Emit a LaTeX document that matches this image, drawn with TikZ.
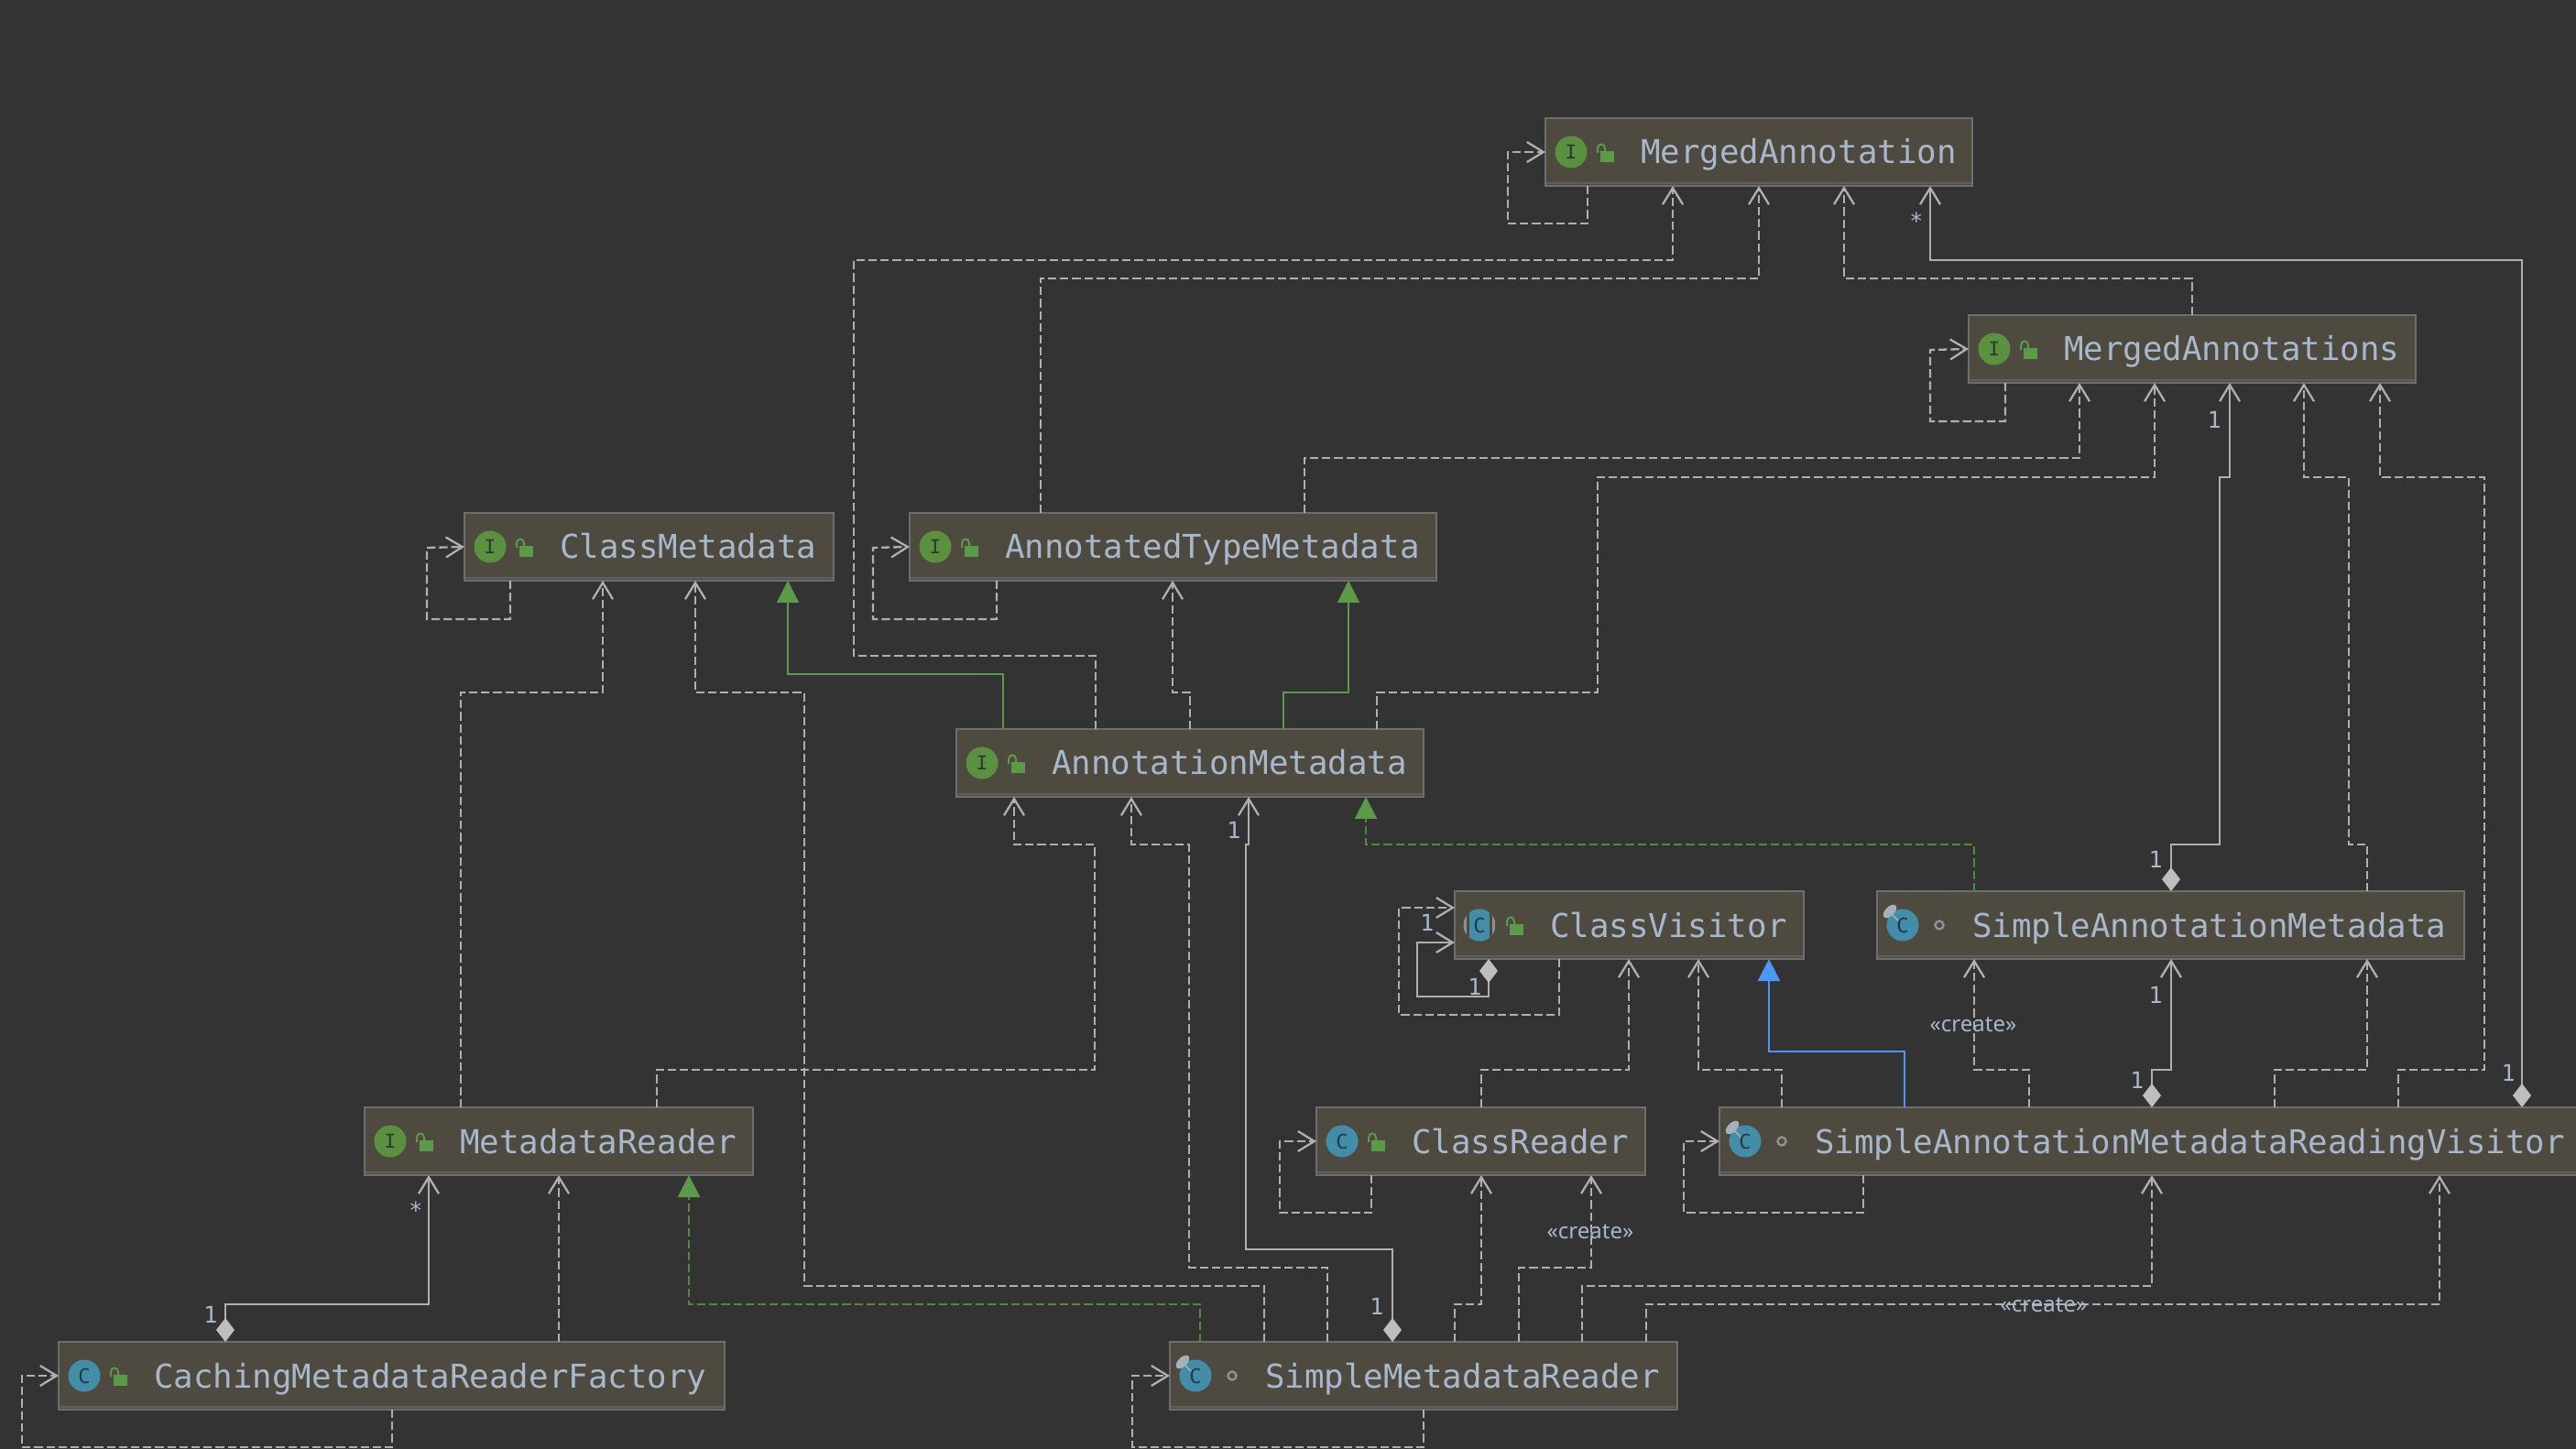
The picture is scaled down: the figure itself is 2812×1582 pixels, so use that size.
\documentclass[tikz,border=0pt]{standalone}
\usepackage{fontspec}
\usetikzlibrary{arrows.meta}
\newfontfamily\jbmono{DejaVu Sans Mono}
\newfontfamily\uisans{Noto Sans}
\definecolor{bgc}{HTML}{333333}
\definecolor{boxc}{HTML}{4E4A3F}
\definecolor{edgec}{HTML}{6E6E6E}
\definecolor{edged}{HTML}{5E5E5E}
\definecolor{linec}{HTML}{AFAFAF}
\definecolor{diac}{HTML}{BEBEBE}
\definecolor{txtc}{HTML}{A7B7CC}
\definecolor{greenc}{HTML}{5B9A48}
\definecolor{greend}{HTML}{4F8A3E}
\definecolor{bluec}{HTML}{4C97F5}
\definecolor{igreen}{HTML}{5A9040}
\definecolor{iteal}{HTML}{438DA8}
\definecolor{idark}{HTML}{2B3A2C}
\definecolor{tdark}{HTML}{1F3A48}
\definecolor{grayi}{HTML}{8B9398}
\definecolor{pinc}{HTML}{A6B0B8}
\tikzset{
  umlnode/.style={draw=edgec,fill=boxc,line width=1pt,inner sep=0pt,outer sep=0pt,anchor=north west,minimum height=37pt},
  umltext/.style={anchor=base west,inner sep=0pt,outer sep=0pt,text=txtc,font=\jbmono\fontsize{17.9}{20}\selectfont},
  mult/.style={inner sep=0pt,text=txtc,font=\jbmono\fontsize{12.5}{14}\selectfont},
  createlbl/.style={inner sep=0pt,text=txtc,font=\uisans\fontsize{12}{14}\selectfont},
  depline/.style={line width=1.15pt,color=linec,dash pattern=on 4.6pt off 2pt,-{Straight Barb[length=9pt,width=11pt]}},
  compline/.style={line width=1.15pt,color=linec,{Diamond[length=13pt,width=10pt,color=diac]}-{Straight Barb[length=9pt,width=11pt]}},
  inhgreen/.style={line width=1.15pt,color=greenc,-{Triangle[length=12pt,width=12pt]}},
  implgreen/.style={line width=1.15pt,color=greend,dash pattern=on 4.6pt off 2pt,-{Triangle[length=12pt,width=12pt,color=greenc]}},
  inhblue/.style={line width=1.15pt,color=bluec,-{Triangle[length=12pt,width=12pt]}},
}
\newcommand{\umlbox}[5]{%
  \node[umlnode,minimum width={(#4-#2)*0.5pt}] (#1) at (#2,#3) {};
  \draw[edged,line width=1pt] ({#2+1},{#3+71}) -- ({#4-1},{#3+71});
  \node[umltext] (#1-t) at ({#2+104},{#3+50}) {#5};
}
\newcommand{\lockicon}[2]{%
  \fill[greenc] ({#1+60},{#2+36}) rectangle ({#1+75},{#2+48});
  \draw[greenc,line width=1pt] ({#1+57},{#2+38}) -- ({#1+57},{#2+33}) .. controls ({#1+57},{#2+27}) and ({#1+65},{#2+27}) .. ({#1+65},{#2+33}) -- ({#1+65},{#2+36});
}
\newcommand{\ifaceicon}[2]{%
  \fill[igreen] ({#1+28},{#2+37}) circle [radius=17.5];
  \node[inner sep=0pt,text=idark,font=\jbmono\fontsize{10.5}{12}\selectfont] at ({#1+28},{#2+37}) {I};
}
\newcommand{\classicon}[2]{%
  \fill[iteal] ({#1+28},{#2+37}) circle [radius=17.5];
  \node[inner sep=0pt,text=tdark,font=\jbmono\fontsize{11}{12}\selectfont] at ({#1+28},{#2+37}) {C};
}
\newcommand{\absicon}[2]{%
  \begin{scope}
    \clip ({#1+27},{#2+37}) circle [radius=17.5];
    \fill[grayi] ({#1+9},{#2+19}) rectangle ({#1+45},{#2+55});
    \fill[boxc] ({#1+13},{#2+19}) rectangle ({#1+41},{#2+55});
    \fill[iteal] ({#1+16},{#2+19}) rectangle ({#1+38},{#2+55});
  \end{scope}
  \node[inner sep=0pt,text=tdark,font=\jbmono\fontsize{11}{12}\selectfont] at ({#1+27},{#2+37}) {C};
}
\newcommand{\pinicon}[2]{%
  \fill[pinc,shift={({#1+14},{#2+22})},rotate=45] (0,0) ellipse [x radius=9,y radius=5];
  \draw[pinc,line width=.8pt] ({#1+17},{#2+26}) -- ({#1+23},{#2+32});
}
\newcommand{\ringicon}[2]{%
  \draw[grayi,line width=1.2pt] ({#1+68},{#2+37}) circle [radius=4.5];
}
\begin{document}
\begin{tikzpicture}[x=0.5pt,y=-0.5pt]
\useasboundingbox (0,0) rectangle (2812,1582);
\clip (0,0) rectangle (2812,1582);
\fill[bgc] (0,0) rectangle (2812,1582);

% boxes
\umlbox{ma}{1687}{129}{2153}{MergedAnnotation}\ifaceicon{1687}{129}\lockicon{1687}{129}
\umlbox{mas}{2149}{344}{2637}{MergedAnnotations}\ifaceicon{2149}{344}\lockicon{2149}{344}
\umlbox{cm}{507}{560}{910}{ClassMetadata}\ifaceicon{507}{560}\lockicon{507}{560}
\umlbox{atm}{993}{560}{1568}{AnnotatedTypeMetadata}\ifaceicon{993}{560}\lockicon{993}{560}
\umlbox{am}{1044}{796}{1554}{AnnotationMetadata}\ifaceicon{1044}{796}\lockicon{1044}{796}
\umlbox{cv}{1588}{973}{1969}{ClassVisitor}\absicon{1588}{973}\lockicon{1588}{973}
\umlbox{sam}{2049}{973}{2690}{SimpleAnnotationMetadata}\classicon{2049}{973}\pinicon{2049}{973}\ringicon{2049}{973}
\umlbox{mr}{398}{1209}{822}{MetadataReader}\ifaceicon{398}{1209}\lockicon{398}{1209}
\umlbox{cr}{1437}{1209}{1796}{ClassReader}\classicon{1437}{1209}\lockicon{1437}{1209}
\umlbox{samrv}{1877}{1209}{2840}{SimpleAnnotationMetadataReadingVisitor}\classicon{1877}{1209}\pinicon{1877}{1209}\ringicon{1877}{1209}
\umlbox{cf}{64}{1465}{791}{CachingMetadataReaderFactory}\classicon{64}{1465}\lockicon{64}{1465}
\umlbox{smr}{1277}{1465}{1831}{SimpleMetadataReader}\classicon{1277}{1465}\pinicon{1277}{1465}\ringicon{1277}{1465}

% self dependencies
\draw[depline] (1733,0 |- ma.south) -- (1733,244) -- (1646,244) -- (1646,166) -- (ma.west);
\draw[depline] (2189,0 |- mas.south) -- (2189,460) -- (2107,460) -- (2107,382) -- (mas.west);
\draw[depline] (557,0 |- cm.south) -- (557,676) -- (466,676) -- (466,598) -- (cm.west);
\draw[depline] (1088,0 |- atm.south) -- (1088,676) -- (953,676) -- (953,598) -- (atm.west);
\draw[depline] (1702,0 |- cv.south) -- (1702,1108) -- (1527,1108) -- (1527,991) -- (cv.west |- 0,991);
\draw[depline] (1497,0 |- cr.south) -- (1497,1324) -- (1397,1324) -- (1397,1246) -- (cr.west);
\draw[depline] (2034,0 |- samrv.south) -- (2034,1324) -- (1838,1324) -- (1838,1246) -- (samrv.west);
\draw[depline] (428,0 |- cf.south) -- (428,1580) -- (24,1580) -- (24,1502) -- (cf.west);
\draw[depline] (1554,0 |- smr.south) -- (1554,1580) -- (1236,1580) -- (1236,1502) -- (smr.west);
\draw[compline] (1625,0 |- cv.south) -- (1625,1088) -- (1547,1088) -- (1547,1029) -- (cv.west |- 0,1029);

% to MergedAnnotation
\draw[depline] (1196,0 |- am.north) -- (1196,716) -- (932,716) -- (932,284) -- (1826,284) -- (1826,0 |- ma.south);
\draw[depline] (1136,0 |- atm.north) -- (1136,304) -- (1920,304) -- (1920,0 |- ma.south);
\draw[depline] (2393,0 |- mas.north) -- (2393,304) -- (2013,304) -- (2013,0 |- ma.south);
\draw[compline] (2753,0 |- samrv.north) -- (2753,284) -- (2107,284) -- (2107,0 |- ma.south);

% to MergedAnnotations
\draw[depline] (1424,0 |- atm.north) -- (1424,500) -- (2270,500) -- (2270,0 |- mas.south);
\draw[depline] (1503,0 |- am.north) -- (1503,756) -- (1744,756) -- (1744,521) -- (2352,521) -- (2352,0 |- mas.south);
\draw[compline] (2370,0 |- sam.north) -- (2370,922) -- (2423,922) -- (2423,521) -- (2434,521) -- (2434,0 |- mas.south);
\draw[depline] (2584,0 |- sam.north) -- (2584,922) -- (2564,922) -- (2564,521) -- (2515,521) -- (2515,0 |- mas.south);
\draw[depline] (2618,0 |- samrv.north) -- (2618,1168) -- (2712,1168) -- (2712,521) -- (2598,521) -- (2598,0 |- mas.south);

% to ClassMetadata
\draw[depline] (503,0 |- mr.north) -- (503,756) -- (658,756) -- (658,0 |- cm.south);
\draw[depline] (1380,0 |- smr.north) -- (1380,1404) -- (878,1404) -- (878,756) -- (759,756) -- (759,0 |- cm.south);
\draw[inhgreen] (1095,0 |- am.north) -- (1095,736) -- (860,736) -- (860,0 |- cm.south);

% to AnnotatedTypeMetadata
\draw[depline] (1299,0 |- am.north) -- (1299,756) -- (1280,756) -- (1280,0 |- atm.south);
\draw[inhgreen] (1401,0 |- am.north) -- (1401,756) -- (1472,756) -- (1472,0 |- atm.south);

% to AnnotationMetadata
\draw[depline] (717,0 |- mr.north) -- (717,1168) -- (1195,1168) -- (1195,922) -- (1107,922) -- (1107,0 |- am.south);
\draw[depline] (1449,0 |- smr.north) -- (1449,1384) -- (1298,1384) -- (1298,922) -- (1235,922) -- (1235,0 |- am.south);
\draw[compline] (1520,0 |- smr.north) -- (1520,1364) -- (1360,1364) -- (1360,922) -- (1363,922) -- (1363,0 |- am.south);
\draw[implgreen] (2155,0 |- sam.north) -- (2155,922) -- (1491,922) -- (1491,0 |- am.south);

% to ClassVisitor
\draw[depline] (1617,0 |- cr.north) -- (1617,1168) -- (1778,1168) -- (1778,0 |- cv.south);
\draw[depline] (1945,0 |- samrv.north) -- (1945,1168) -- (1854,1168) -- (1854,0 |- cv.south);
\draw[inhblue] (2079,0 |- samrv.north) -- (2079,1148) -- (1931,1148) -- (1931,0 |- cv.south);

% to SimpleAnnotationMetadata
\draw[depline] (2215,0 |- samrv.north) -- (2215,1168) -- (2155,1168) -- (2155,0 |- sam.south);
\draw[compline] (2349,0 |- samrv.north) -- (2349,1168) -- (2370,1168) -- (2370,0 |- sam.south);
\draw[depline] (2483,0 |- samrv.north) -- (2483,1168) -- (2584,1168) -- (2584,0 |- sam.south);

% to MetadataReader
\draw[compline] (246,0 |- cf.north) -- (246,1424) -- (468,1424) -- (468,0 |- mr.south);
\draw[depline] (610,0 |- cf.north) -- (610,0 |- mr.south);
\draw[implgreen] (1310,0 |- smr.north) -- (1310,1424) -- (752,1424) -- (752,0 |- mr.south);

% from SimpleMetadataReader
\draw[depline] (1588,0 |- smr.north) -- (1588,1424) -- (1617,1424) -- (1617,0 |- cr.south);
\draw[depline] (1658,0 |- smr.north) -- (1658,1384) -- (1737,1384) -- (1737,0 |- cr.south);
\draw[depline] (1727,0 |- smr.north) -- (1727,1404) -- (2349,1404) -- (2349,0 |- samrv.south);
\draw[depline] (1797,0 |- smr.north) -- (1797,1424) -- (2663,1424) -- (2663,0 |- samrv.south);

% labels
\node[mult] (l01) at (2092,241) {*};
\node[mult] (l02) at (454,1321) {*};
\node[mult] (l03) at (2417,458) {1};
\node[mult] (l04) at (2353,938) {1};
\node[mult] (l05) at (1347,906) {1};
\node[mult] (l06) at (1558,1007) {1};
\node[mult] (l07) at (1610,1077) {1};
\node[mult] (l08) at (1503,1426) {1};
\node[mult] (l09) at (230,1435) {1};
\node[mult] (l10) at (2333,1179) {1};
\node[mult] (l11) at (2738,1171) {1};
\node[mult] (l12) at (2353,1086) {1};
\node[createlbl] (c1) at (2154,1119) {«create»};
\node[createlbl] (c2) at (1736,1345) {«create»};
\node[createlbl] (c3) at (2231,1425) {«create»};
\end{tikzpicture}
\end{document}
